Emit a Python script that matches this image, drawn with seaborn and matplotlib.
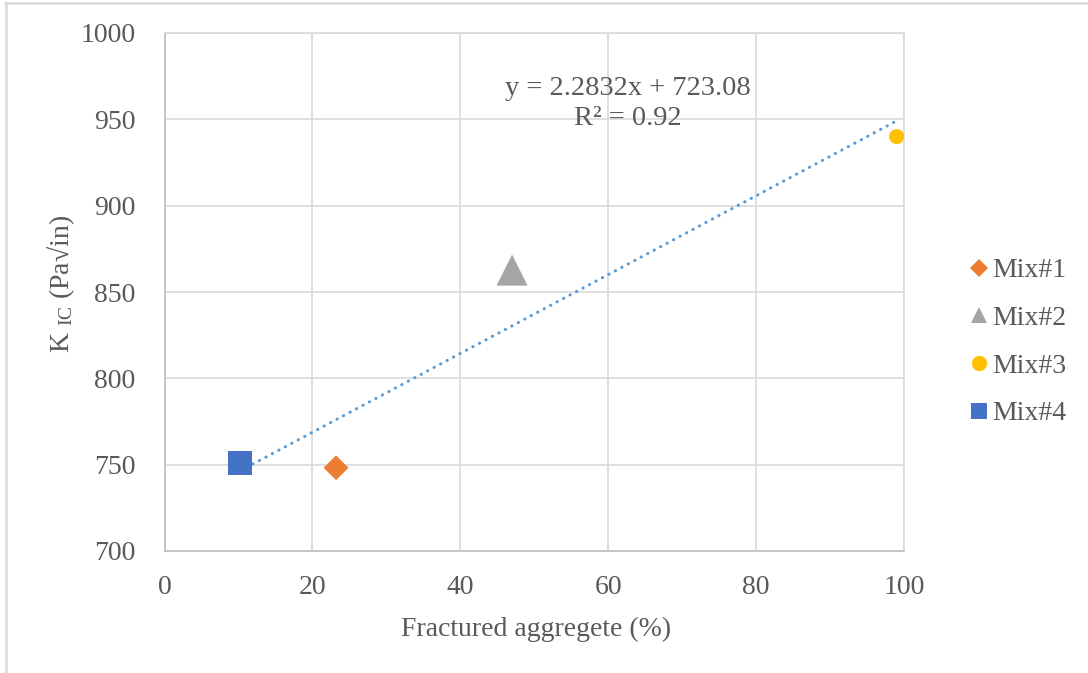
import matplotlib
matplotlib.use("Agg")
import matplotlib.pyplot as plt
from matplotlib.lines import Line2D
import numpy as np
import pandas as pd
import seaborn as sns

# ---- data ----
MIXES = ["Mix#1", "Mix#2", "Mix#3", "Mix#4"]
FRACTURED = [23.2, 47.0, 99.0, 10.2]      # Fractured aggregete (%)
KIC = [748.2, 862.7, 940.0, 750.7]        # K_IC (Pa sqrt(in))
SLOPE = 2.2832
INTERCEPT = 723.08
R2 = 0.92

COLORS = {"Mix#1": "#ED7D31", "Mix#2": "#A5A5A5", "Mix#3": "#FFC000", "Mix#4": "#4472C4"}
MARKERS = {"Mix#1": "D", "Mix#2": "^", "Mix#3": "o", "Mix#4": "s"}
SIZES = {"Mix#1": 160, "Mix#2": 500, "Mix#3": 117, "Mix#4": 300}
LEG_SIZES = {"Mix#1": 9.5, "Mix#2": 12, "Mix#3": 11, "Mix#4": 11}

TXT = "#595959"
GRID = "#D9D9D9"

sns.set_theme(style="white")
plt.rcParams["font.family"] = ["Liberation Serif", "DejaVu Serif"]
plt.rcParams["mathtext.fontset"] = "custom"
plt.rcParams["mathtext.rm"] = "Liberation Serif"
plt.rcParams["mathtext.it"] = "Liberation Serif:italic"

df = pd.DataFrame({"mix": MIXES, "x": FRACTURED, "y": KIC})

fig = plt.figure(figsize=(10.88, 6.73), dpi=100)
ax = fig.add_axes([164.5 / 1088, 1 - 551 / 673, (904 - 164.5) / 1088, (551 - 33) / 673])

# trendline from the stated fit
xs = np.array([min(FRACTURED), max(FRACTURED)])
ax.plot(xs, SLOPE * xs + INTERCEPT, color="#5B9BD5", lw=2.2,
        linestyle=(0, (0.1, 2.3)), dash_capstyle="round", zorder=3)

for m in MIXES:
    sns.scatterplot(data=df[df["mix"] == m], x="x", y="y", ax=ax,
                    color=COLORS[m], marker=MARKERS[m], s=SIZES[m],
                    edgecolor="none", linewidth=0, zorder=4)

ax.set_xlim(0, 100)
ax.set_ylim(700, 1000)
ax.set_xticks(range(0, 101, 20))
ax.set_yticks(range(700, 1001, 50))
ax.grid(True, color=GRID, lw=1.2)
ax.set_axisbelow(True)
for side in ["top", "right"]:
    ax.spines[side].set_color(GRID)
for side in ["left", "bottom"]:
    ax.spines[side].set_color("#BFBFBF")
for s in ax.spines.values():
    s.set_linewidth(1.2)
ax.tick_params(axis="both", length=0, labelsize=20, labelcolor=TXT)
ax.tick_params(axis="y", pad=21)
ax.tick_params(axis="x", pad=17)

ax.set_xlabel("Fractured aggregete (%)", fontsize=20, color=TXT)
ax.set_ylabel(r"K $_{\rm IC}$ (Pa√in)", fontsize=20, color=TXT)
ax.xaxis.set_label_coords(0.502, -0.128)
ax.yaxis.set_label_coords(-0.118, 0.515)

ax.text(0.627, 0.893, f"y = {SLOPE}x + {INTERCEPT}", transform=ax.transAxes,
        ha="center", va="center", fontsize=20.5, color=TXT)
ax.text(0.627, 0.835, f"R² = {R2}", transform=ax.transAxes,
        ha="center", va="center", fontsize=20.5, color=TXT)

handles = [Line2D([], [], linestyle="none", marker=MARKERS[m], color=COLORS[m],
                  markersize=LEG_SIZES[m], markeredgewidth=0) for m in MIXES]
leg = fig.legend(handles, MIXES, loc="center left", bbox_to_anchor=(957 / 1088, 1 - 342 / 673),
                 frameon=False, fontsize=20, handlelength=0.6, handletextpad=0.15,
                 labelspacing=0.8, borderpad=0)
for t in leg.get_texts():
    t.set_color(TXT)

# chart-area border as in the reference
fig.add_artist(Line2D([5 / 1088, 1], [1 - 3 / 673] * 2, transform=fig.transFigure, color=GRID, lw=1.8))
fig.add_artist(Line2D([6 / 1088] * 2, [0, 1 - 3 / 673], transform=fig.transFigure, color=GRID, lw=1.8))

fig.savefig("out.png", dpi=100)
